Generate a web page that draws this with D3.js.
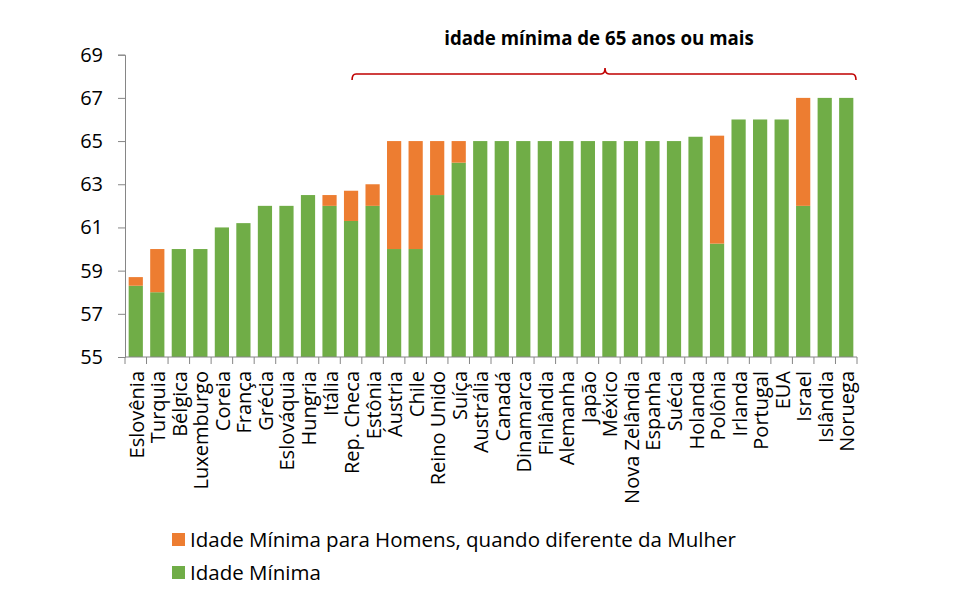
<!DOCTYPE html>
<html>
<head>
<meta charset="utf-8">
<script src="https://cdn.jsdelivr.net/npm/d3@7"></script>
<style>
  body { margin: 0; background: #fff; }
  svg { display: block; font-family: "Open Sans", sans-serif; }
</style>
</head>
<body>
<svg id="chart" width="969" height="606"></svg>
<script>
const categories = ["Eslovênia","Turquia","Bélgica","Luxemburgo","Coreia","França","Grécia","Eslováquia","Hungria","Itália","Rep. Checa","Estônia","Áustria","Chile","Reino Unido","Suíça","Austrália","Canadá","Dinamarca","Finlândia","Alemanha","Japão","México","Nova Zelândia","Espanha","Suécia","Holanda","Polônia","Irlanda","Portugal","EUA","Israel","Islândia","Noruega"];
const minAge = [58.3,58,60,60,61,61.2,62,62,62.5,62,61.3,62,60,60,62.5,64,65,65,65,65,65,65,65,65,65,65,65.2,60.25,66,66,66,62,67,67];
const menAge = [58.7,60,null,null,null,null,null,null,null,62.5,62.7,63,65,65,65,65,null,null,null,null,null,null,null,null,null,null,null,65.25,null,null,null,67,null,null];
const yTicks = [55,57,59,61,63,65,67,69];
const seriesNames = ["Idade Mínima para Homens, quando diferente da Mulher","Idade Mínima"];
const colors = ["#ed7d31","#70ad47"];
const bracketLabel = "idade mínima de 65 anos ou mais";
const bracketStart = "Rep. Checa";

(function () {
const svg = d3.select("#chart");
const mLeft = 125, mRight = 857, mTop = 54.7, mBottom = 357;
const x = d3.scaleBand().domain(categories).range([mLeft, mRight]).paddingInner(0.34).paddingOuter(0.17);
const y = d3.scaleLinear().domain([55, 69]).range([mBottom, mTop]);

// bars
const g = svg.append("g");
g.selectAll("rect.green").data(categories).join("rect")
  .attr("class", "green")
  .attr("x", d => x(d)).attr("width", x.bandwidth())
  .attr("y", (d,i) => y(minAge[i])).attr("height", (d,i) => y(55) - y(minAge[i]))
  .attr("fill", colors[1]);
g.selectAll("rect.orange").data(categories.filter((d,i) => menAge[i] != null)).join("rect")
  .attr("class", "orange")
  .attr("x", d => x(d)).attr("width", x.bandwidth())
  .attr("y", d => y(menAge[categories.indexOf(d)]))
  .attr("height", d => { const i = categories.indexOf(d); return y(minAge[i]) - y(menAge[i]); })
  .attr("fill", colors[0]);

// y axis
const yAxis = svg.append("g").attr("transform", `translate(${mLeft},0)`)
  .call(d3.axisLeft(y).tickValues(yTicks).tickSize(7).tickPadding(15).tickFormat(d3.format("d")));
yAxis.select(".domain").attr("stroke", "#868686");
yAxis.selectAll(".tick line").attr("stroke", "#868686");
yAxis.selectAll("text").attr("font-size", 20).attr("fill", "#000").attr("font-family", "Open Sans");

// x axis: ticks at band boundaries
const xg = svg.append("g");
xg.append("line").attr("x1", mLeft).attr("x2", mRight).attr("y1", mBottom).attr("y2", mBottom).attr("stroke", "#868686");
const bounds = d3.range(categories.length + 1).map(i => mLeft + i * (mRight - mLeft) / categories.length);
xg.selectAll("line.t").data(bounds).join("line")
  .attr("class", "t")
  .attr("x1", d => d).attr("x2", d => d).attr("y1", mBottom).attr("y2", mBottom + 7).attr("stroke", "#868686");
xg.selectAll("text").data(categories).join("text")
  .attr("transform", d => `translate(${x(d) + x.bandwidth()/2 + 8},${mBottom + 14}) rotate(-90)`)
  .attr("text-anchor", "end")
  .attr("font-size", 20)
  .attr("fill", "#000")
  .text(d => d);

// bracket
const bx1 = x(bracketStart) + x.bandwidth()/2 + 1, bx2 = mRight - 1;
const by = 74, mid = (bx1 + bx2) / 2 + 1;
const path = d3.path();
path.moveTo(bx1, by + 6);
path.quadraticCurveTo(bx1, by, bx1 + 4, by);
path.lineTo(mid - 4, by);
path.quadraticCurveTo(mid, by, mid, by - 6);
path.quadraticCurveTo(mid, by, mid + 4, by);
path.lineTo(bx2 - 4, by);
path.quadraticCurveTo(bx2, by, bx2, by + 6);
svg.append("path").attr("d", path.toString()).attr("fill", "none").attr("stroke", "#c00000").attr("stroke-width", 1.6);
svg.append("text").attr("x", mid - 6).attr("y", 45).attr("text-anchor", "middle")
  .attr("font-size", 18.7).attr("font-weight", "bold").attr("fill", "#000").text(bracketLabel);

// legend
const leg = svg.append("g");
seriesNames.forEach((n, i) => {
  const ly = 540 + i * 33;
  leg.append("rect").attr("x", 172).attr("y", ly - 7).attr("width", 13).attr("height", 13).attr("fill", colors[i]);
  leg.append("text").attr("x", 190).attr("y", ly).attr("dy", "0.35em").attr("font-size", 20.5).attr("fill", "#000").text(n);
});
})();
</script>
</body>
</html>
